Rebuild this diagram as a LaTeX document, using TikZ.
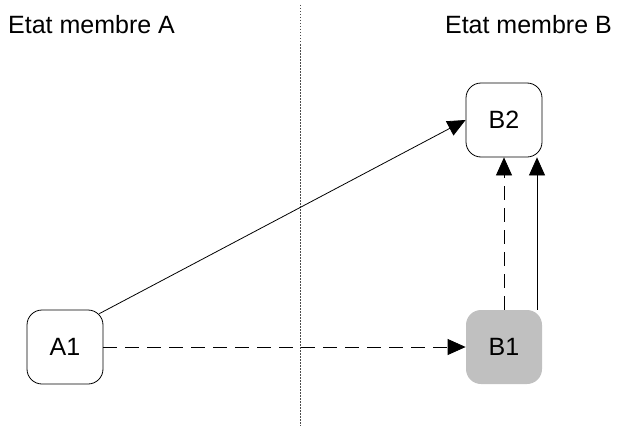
\documentclass[tikz,border=0pt]{standalone}
\usepackage{fontspec}
\setmainfont{Liberation Sans}
\usetikzlibrary{arrows.meta}
\begin{document}
\begin{tikzpicture}[x=1pt,y=-1pt,
  box/.style={draw=black, line width=0.8pt, rounded corners=15pt, minimum width=76pt, minimum height=74pt, inner sep=0pt, font=\fontsize{25}{29}\selectfont},
  gbox/.style={box, draw=none, fill={rgb,255:red,192;green,192;blue,192}},
  lbl/.style={font=\fontsize{25}{29}\selectfont, inner sep=0pt},
  tip/.style={-{Triangle[length=18pt,width=16pt]}, line width=0.8pt},
  dsh/.style={dash pattern=on 14pt off 8pt}]
\useasboundingbox (0,0) rectangle (617,428);
\node[box] (A1) at (65,347) {A1};
\node[gbox] (B1) at (504,347) {B1};
\node[box] (B2) at (504,120) {B2};
\node[lbl, anchor=west] (TA) at (8,25) {Etat membre A};
\node[lbl, anchor=east] (TB) at (612,25) {Etat membre B};
\coordinate (dt) at (300,5);
\coordinate (db) at (300,426);
\draw[line width=0.8pt, dash pattern=on 1.5pt off 1.5pt, black!70] (dt) -- (db);
\draw[tip, dsh] (A1.east) -- (B1.west);
\draw[tip] (A1.north east) ++(-4,4) coordinate (as) (as) -- (B2.west);
\draw[tip, dsh] (B1.north) -- (B2.south);
\draw[tip] ([xshift=33pt]B1.north) -- ([xshift=33pt]B2.south);
\end{tikzpicture}
\end{document}
